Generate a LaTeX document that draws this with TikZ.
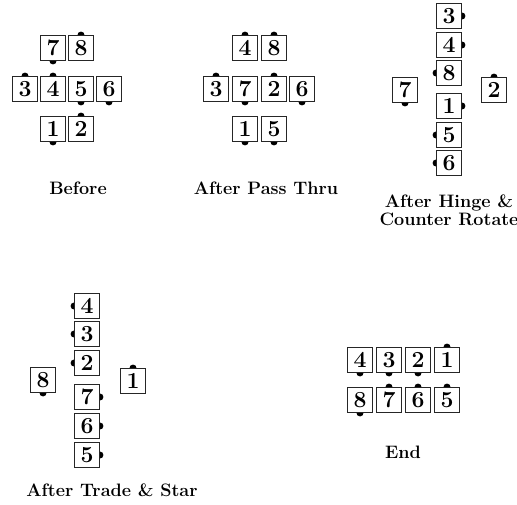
\documentclass[tikz,border=0pt]{standalone}
\usepackage{tikz}
\usetikzlibrary{backgrounds}

\tikzset{
  dancer/.style={draw=black!85, fill=white, line width=0.9pt,
                 minimum size=25pt, inner sep=0pt,
                 font=\fontsize{23}{23}\selectfont\bfseries},
  caption/.style={font=\fontsize{18}{18}\selectfont\bfseries, align=center},
  nose/.style={fill=black}
}

\begin{document}
\begin{tikzpicture}[x=1pt, y=-1pt]
  \useasboundingbox (0,0) rectangle (517,504);
  % Before
  \foreach \n/\x/\y/\d in {%
    7/53/48/south, 8/81/48/north,
    3/25/89/north, 4/53/89/north, 5/81/89/south, 6/109/89/south,
    1/53/129/south, 2/81/129/north}
  {%
    \node[dancer] (b\n) at (\x,\y) {\n};
    \begin{scope}[on background layer]
      \fill[nose] (b\n.\d) circle (3.5pt);
    \end{scope}
  }
  % After Pass Thru
  \foreach \n/\x/\y/\d in {%
    4/245/48/north, 8/274/48/north,
    3/216/89/north, 7/245/89/south, 2/274/89/north, 6/302/89/south,
    1/245/129/south, 5/274/129/south}
  {%
    \node[dancer] (p\n) at (\x,\y) {\n};
    \begin{scope}[on background layer]
      \fill[nose] (p\n.\d) circle (3.5pt);
    \end{scope}
  }
  % After Hinge & Counter Rotate
  \foreach \n/\x/\y/\d in {%
    3/449/16/east, 4/449/45/east, 8/449/73/west,
    1/449/106/east, 5/449/135/west, 6/449/163/west,
    7/405/90/south, 2/494/90/north}
  {%
    \node[dancer] (h\n) at (\x,\y) {\n};
    \begin{scope}[on background layer]
      \fill[nose] (h\n.\d) circle (3.5pt);
    \end{scope}
  }
  % After Trade & Star
  \foreach \n/\x/\y/\d in {%
    4/87/306/west, 3/87/334/west, 2/87/363/west,
    7/87/397/east, 6/87/426/east, 5/87/455/east,
    8/43/380/south, 1/133/381/north}
  {%
    \node[dancer] (t\n) at (\x,\y) {\n};
    \begin{scope}[on background layer]
      \fill[nose] (t\n.\d) circle (3.5pt);
    \end{scope}
  }
  % End
  \foreach \n/\x/\y/\d in {%
    4/360/360/south, 3/389/360/south, 2/418/360/south, 1/447/360/north,
    8/360/400/south, 7/389/400/north, 6/418/400/north, 5/447/400/north}
  {%
    \node[dancer] (e\n) at (\x,\y) {\n};
    \begin{scope}[on background layer]
      \fill[nose] (e\n.\d) circle (3.5pt);
    \end{scope}
  }
  % Captions
  \node[caption] (before) at (78,188) {Before};
  \node[caption] (pass) at (266,188) {After Pass Thru};
  \node[caption] (hinge) at (449,210) {After Hinge \&\\Counter Rotate};
  \node[caption] (trade) at (112,490) {After Trade \& Star};
  \node[caption] (end) at (403,452) {End};
\end{tikzpicture}
\end{document}
